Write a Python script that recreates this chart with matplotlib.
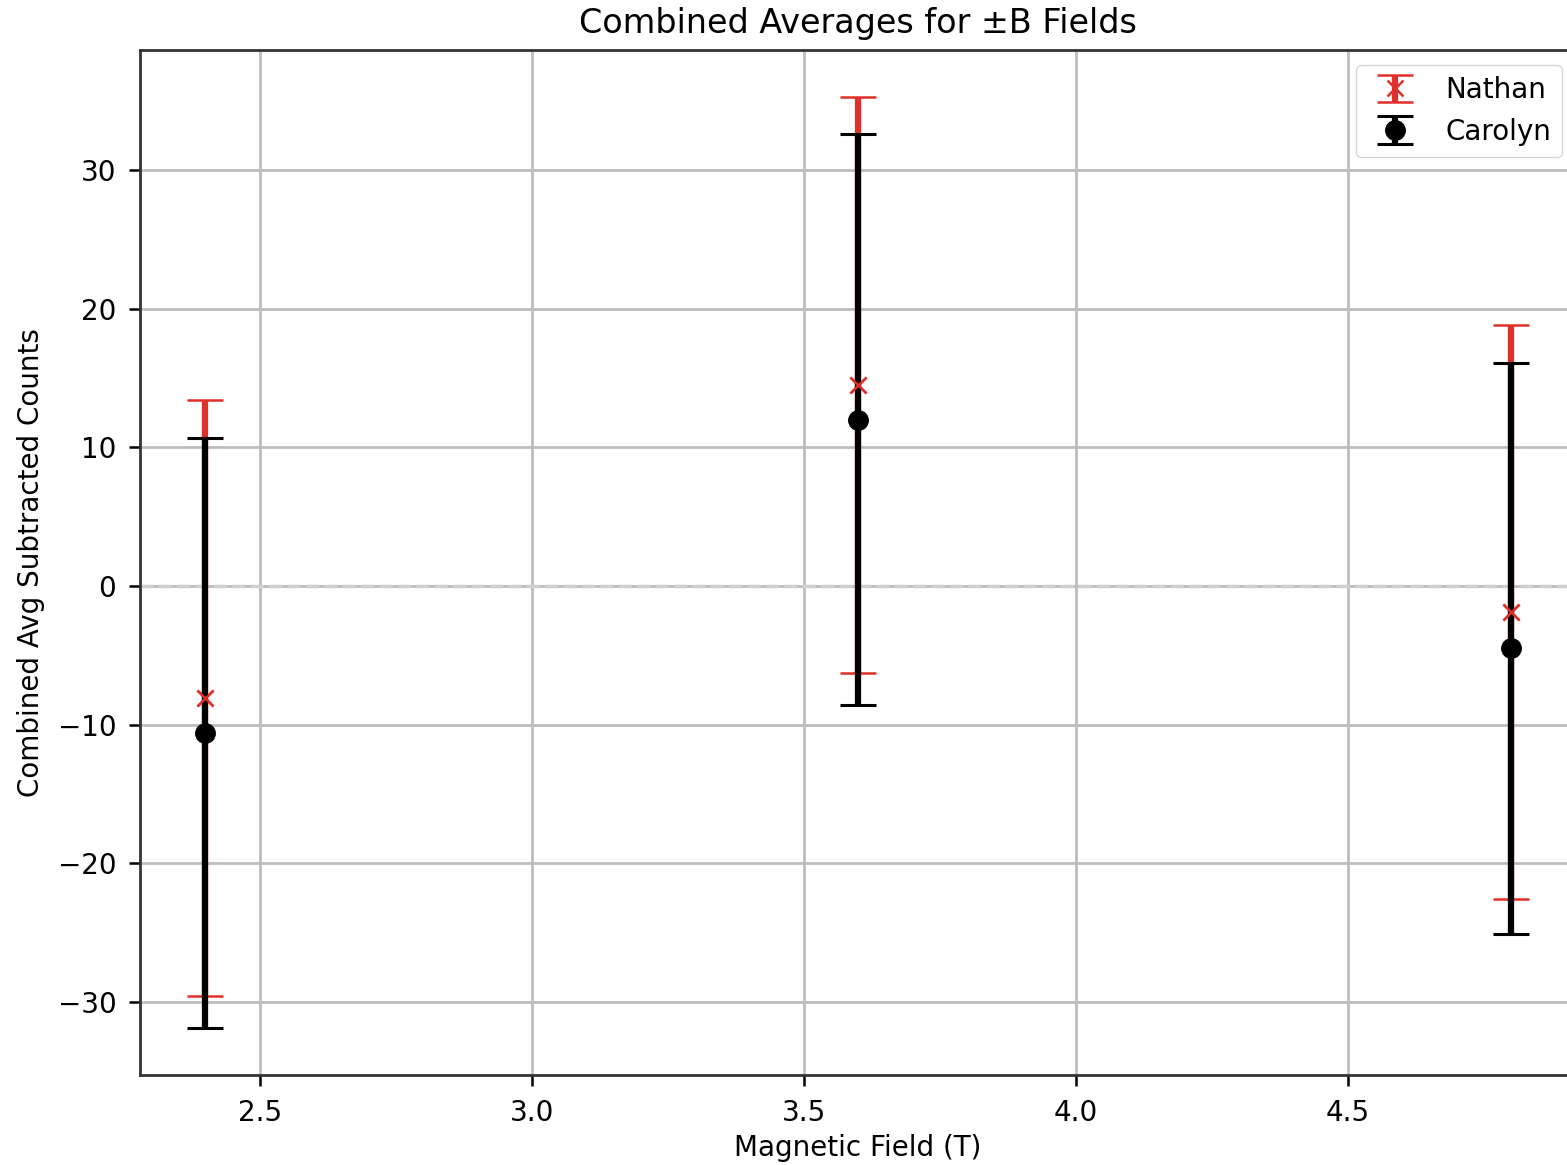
import matplotlib.pyplot as plt
import numpy as np

# magnetic field values (T)
fields = [2.4, 3.6, 4.8]

# Nathan's combined averages and uncertainties
nathan_avg = [-8.1, 14.5, -1.9]
nathan_err = [21.5, 20.8, 20.7]

# Carolyn's combined averages and uncertainties
carolyn_avg = [-10.6, 12.0, -4.5]
carolyn_err = [21.3, 20.6, 20.6]

plt.rcParams['font.family'] = 'DejaVu Sans'
fig = plt.figure(figsize=(15.67, 11.65), dpi=100)
# axes runs a little past the right edge, as in the cropped original
ax = fig.add_axes([0.0893, 0.0773, 0.9165, 0.8797])

red = '#e0302a'
ax.errorbar(fields, nathan_avg, yerr=nathan_err, fmt='x', color=red,
            ecolor=red, elinewidth=4.5, capsize=13, capthick=2.2,
            markersize=12, markeredgewidth=1.8, label='Nathan', zorder=3)
ax.errorbar(fields, carolyn_avg, yerr=carolyn_err, fmt='o', color='black',
            ecolor='black', elinewidth=4.5, capsize=13, capthick=2.2,
            markersize=14, label='Carolyn', zorder=4)
# red crosses sit on top of the black bars
ax.plot(fields, nathan_avg, 'x', color=red, markersize=12,
        markeredgewidth=1.8, zorder=5)

ax.axhline(0, color='#d0d0d0', linestyle='--', linewidth=2.5, zorder=1)

ax.set_title('Combined Averages for ±B Fields', fontsize=24, pad=12)
ax.set_xlabel('Magnetic Field (T)', fontsize=20, labelpad=5)
ax.set_ylabel('Combined Avg Subtracted Counts', fontsize=20, labelpad=9)
ax.tick_params(labelsize=20, length=8, width=1.8, pad=9)
for s in ax.spines.values():
    s.set_linewidth(2)
    s.set_color('#333333')
ax.grid(True, color='#bdbdbd', linewidth=2)
ax.set_axisbelow(True)
ax.legend(loc='upper right', fontsize=20, bbox_to_anchor=(1.0, 0.999))

plt.savefig('out.png', dpi=100)
plt.close()
